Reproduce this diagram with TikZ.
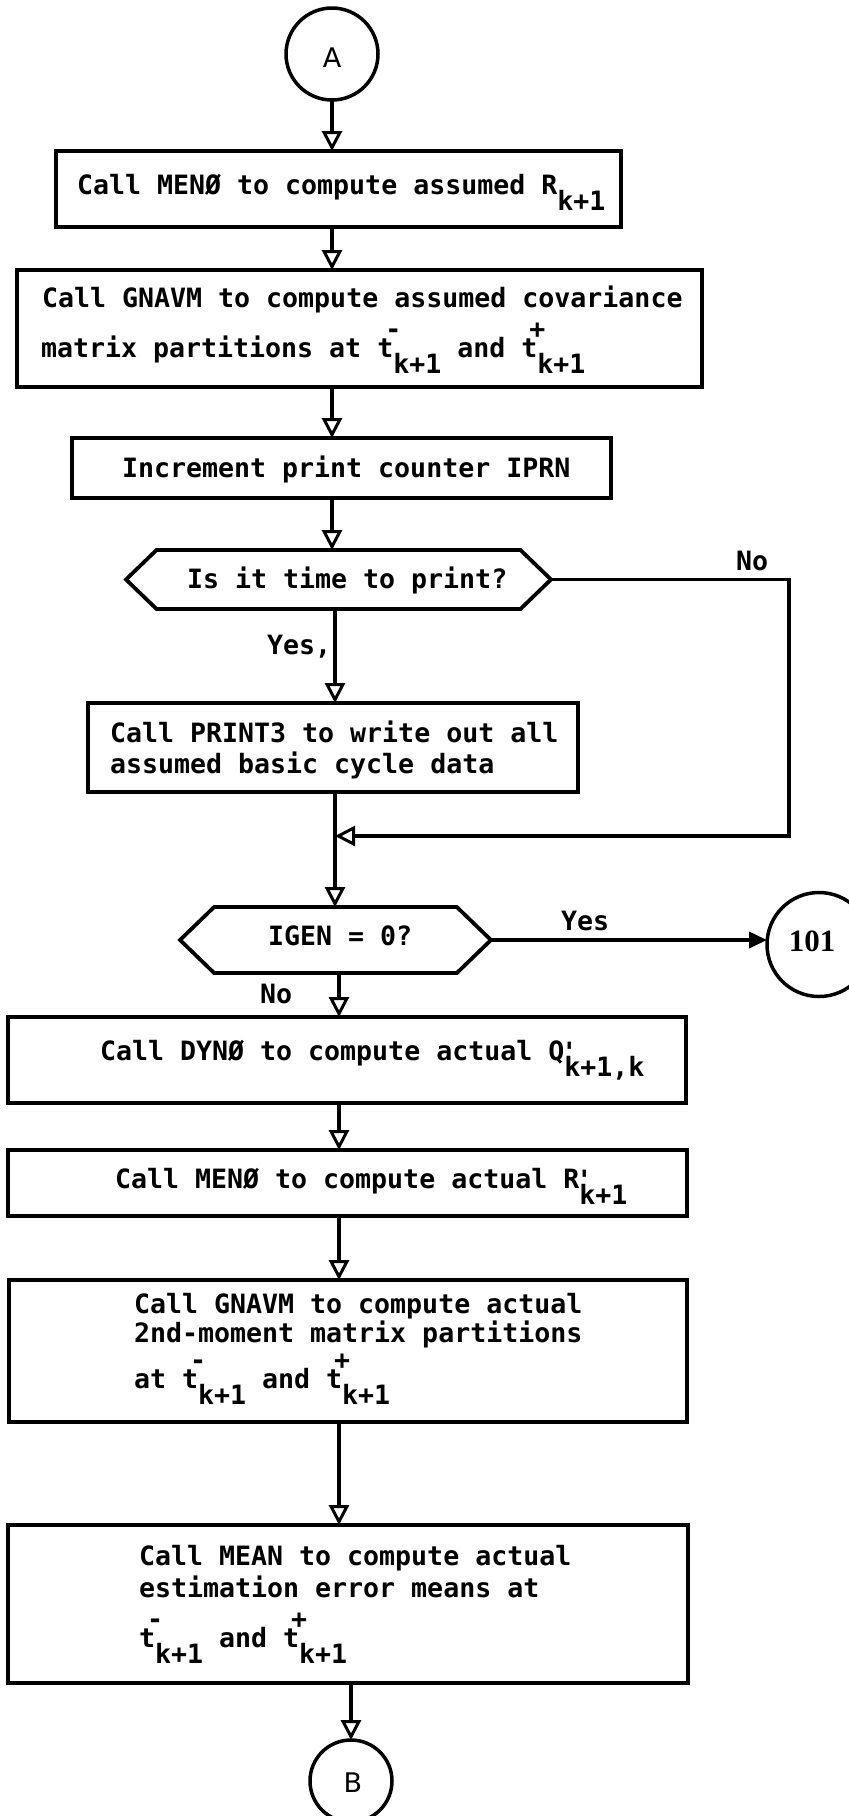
\documentclass[tikz,border=0pt]{standalone}
\usepackage{fontspec}
\newfontfamily\tw{DejaVu Sans Mono}
\newfontfamily\hand{DejaVu Sans}
\newfontfamily\numf{Liberation Serif}
\usetikzlibrary{arrows.meta,shapes.symbols}
\newcommand\dn[1]{\smash{\raisebox{-16pt}{#1}}}
\newcommand\up[1]{\smash{\rlap{\hspace{-8pt}\raisebox{19pt}{#1}}}}
\newcommand\tk[1]{t\up{#1}\dn{k+1}}
\newcommand\pr{\smash{\rlap{\hspace{-3pt}\raisebox{-1pt}{'}}}}
\tikzset{
  procbox/.style={draw, line width=3.8pt, rectangle, inner sep=0pt, outer sep=0pt},
  decbox/.style={draw, line width=3.8pt, signal, signal to=east and west, signal pointer angle=88, inner sep=0pt, outer sep=0pt},
  conbox/.style={draw, line width=3.5pt, circle, inner sep=0pt, outer sep=0pt},
  txt/.style={font=\tw\bfseries\fontsize{26.6pt}{30pt}\selectfont, anchor=base west, inner sep=0pt, outer sep=0pt},
  conn/.style={line width=3.8pt, -{Triangle[fill=white, width=20pt, length=20pt, line width=3pt]}},
  connblack/.style={line width=3.8pt, -{Triangle[width=16pt, length=18pt]}}
}
\begin{document}
\begin{tikzpicture}[x=1pt,y=-1pt]
\fill[white] (0,0) rectangle (849,1816);
\useasboundingbox (0,0) rectangle (849,1816);

% connectors' spine coordinates
\coordinate (sp) at (335,0);
\coordinate (spl) at (339,0);

% connector circles
\node[conbox, minimum size=92pt] (A) at (332,54) {};
\node[font=\hand\fontsize{27pt}{30pt}\selectfont, inner sep=0pt] (At) at (332,58) {A};
\node[conbox, minimum size=104pt] (C101) at (819,944.5) {};
\node[font=\numf\bfseries\fontsize{31pt}{34pt}\selectfont, inner sep=0pt] (C101t) at (812,941) {101};
\node[conbox, minimum size=82pt] (B) at (351,1781) {};
\node[font=\hand\fontsize{27pt}{30pt}\selectfont, inner sep=0pt] (Bt) at (353,1783) {B};

% boxes
\node[procbox, minimum width=565pt, minimum height=76pt] (b1) at (338.5,189) {};
\node[txt] (b1t) at (77,194) {Call MENØ to compute assumed R\dn{k+1}};

\node[procbox, minimum width=685pt, minimum height=117pt] (b2) at (359.5,328.5) {};
\node[txt] (b2ta) at (42,307) {Call GNAVM to compute assumed covariance};
\node[txt] (b2tb) at (41,357) {matrix partitions at \tk{-} and \tk{+}};

\node[procbox, minimum width=539pt, minimum height=60pt] (b3) at (341.5,468) {};
\node[txt] (b3t) at (122,477) {Increment print counter IPRN};

\node[decbox, minimum width=425pt, minimum height=59pt] (d1) at (338.5,579.5) {};
\node[txt] (d1t) at (187,588) {Is it time to print?};

\node[procbox, minimum width=490pt, minimum height=89pt] (b4) at (333,747.5) {};
\node[txt] (b4ta) at (110,742) {Call PRINT3 to write out all};
\node[txt] (b4tb) at (110,773) {assumed basic cycle data};

\node[decbox, minimum width=311pt, minimum height=66pt] (d2) at (335.5,940) {};
\node[txt] (d2t) at (268,945) {IGEN = 0?};

\node[procbox, minimum width=678pt, minimum height=86pt] (b5) at (347,1060) {};
\node[txt] (b5t) at (100,1060) {Call DYNØ to compute actual Q\pr\dn{k+1,k}};

\node[procbox, minimum width=679pt, minimum height=66pt] (b6) at (347.5,1183) {};
\node[txt] (b6t) at (115,1188) {Call MENØ to compute actual R\pr\dn{k+1}};

\node[procbox, minimum width=678pt, minimum height=142pt] (b7) at (348,1351) {};
\node[txt] (b7ta) at (134,1313) {Call GNAVM to compute actual};
\node[txt] (b7tb) at (134,1342) {2nd-moment matrix partitions};
\node[txt] (b7tc) at (134,1388) {at \tk{-} and \tk{+}};

\node[procbox, minimum width=680pt, minimum height=158pt] (b8) at (348,1604) {};
\node[txt] (b8ta) at (139,1565) {Call MEAN to compute actual};
\node[txt] (b8tb) at (139,1597) {estimation error means at};
\node[txt] (b8tc) at (139,1647) {\tk{-} and \tk{+}};

% labels
\node[txt] (lyes1) at (267,654) {Yes,};
\node[txt] (lno1) at (736,570) {No};
\node[txt] (lyes2) at (561,930) {Yes};
\node[txt] (lno2) at (260,1003) {No};

% loop corner
\coordinate (nc) at (789,836);

% connectors
\draw[conn] (A.south) -- (A.south |- b1.north);
\draw[conn] (b1.south -| A) -- (b2.north -| A);
\draw[conn] (b2.south -| A) -- (b3.north -| A);
\draw[conn] (b3.south -| A) -- (d1.north -| A);
\draw[conn] (d1.south -| sp) -- (b4.north -| sp);
\draw[conn] (d1.east) -- (d1.east -| nc) -- (nc) -- (nc -| sp);
\draw[conn] (b4.south -| sp) -- (d2.north -| sp);
\draw[connblack] (d2.east) -- (d2.east -| C101.west);
\draw[conn] (d2.south -| spl) -- (b5.north -| spl);
\draw[conn] (b5.south -| spl) -- (b6.north -| spl);
\draw[conn] (b6.south -| spl) -- (b7.north -| spl);
\draw[conn] (b7.south -| spl) -- (b8.north -| spl);
\draw[conn] (b8.south -| B) -- (B.north);
\end{tikzpicture}
\end{document}
